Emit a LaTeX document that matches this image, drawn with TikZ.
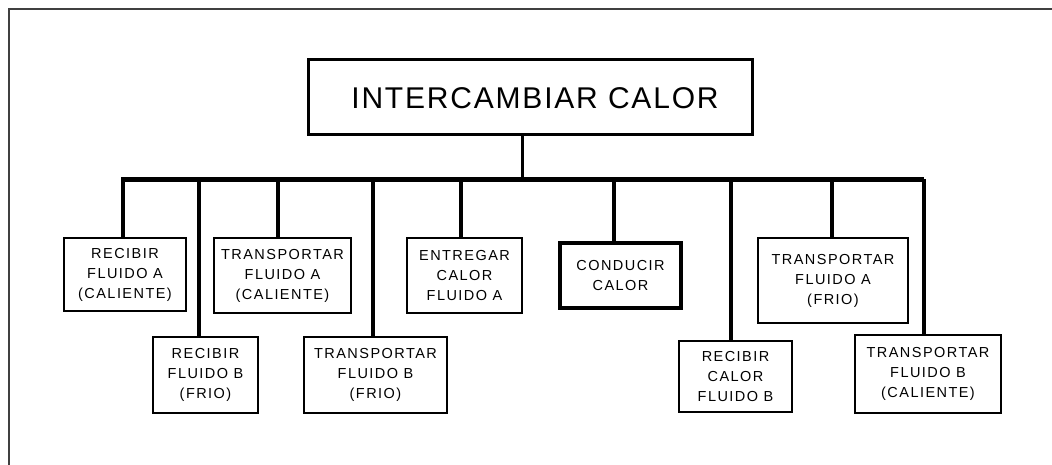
\documentclass[tikz,border=0pt]{standalone}
\usepackage{fontspec}
\setmainfont{Liberation Sans}
\newfontfamily\boxfont[LetterSpace=10]{Liberation Sans}
\newfontfamily\titlefont[LetterSpace=6]{Liberation Sans}
\tikzset{
  frameline/.style={draw=black!75, line width=2pt},
  mainbox/.style={draw=black, line width=3pt, inner sep=0pt, minimum width=444pt, minimum height=75pt},
  funcbox/.style={draw=black, line width=2pt, inner sep=0pt, align=center,
    font=\boxfont\fontsize{14.5}{20}\selectfont},
  thickbox/.style={funcbox, line width=3.5pt},
  stemline/.style={line width=3pt},
  busline/.style={line width=5pt},
  dropline/.style={line width=3.5pt},
}
\begin{document}
\begin{tikzpicture}[x=1pt, y=-1pt]
\useasboundingbox (0,0) rectangle (1052,465);
% outer frame (open)
\draw[frameline] (9,465) -- (9,9) -- (1052,9);
% top function
\node[mainbox] (top) at (530,97.5) {};
\node[font=\titlefont\fontsize{30}{36}\selectfont, inner sep=0pt] (title) at (535,98) {INTERCAMBIAR CALOR};
% bus
\coordinate (busL) at (121,179.5);
\coordinate (busR) at (924,179.5);
\coordinate (stemtop) at (522,135);
\draw[busline] (busL) -- (busR);
\draw[stemline] (stemtop) -- (stemtop |- busL);
% sub-functions
\node[funcbox, minimum width=122pt, minimum height=73pt] (b1) at (125,274.5) {RECIBIR\\FLUIDO A\\(CALIENTE)};
\node[funcbox, minimum width=105pt, minimum height=76pt] (b2) at (205.5,375) {RECIBIR\\FLUIDO B\\(FRIO)};
\node[funcbox, minimum width=137pt, minimum height=75pt] (b3) at (282.5,275.5) {TRANSPORTAR\\FLUIDO A\\(CALIENTE)};
\node[funcbox, minimum width=143pt, minimum height=76pt] (b4) at (375.5,375) {TRANSPORTAR\\FLUIDO B\\(FRIO)};
\node[funcbox, minimum width=115pt, minimum height=75pt] (b5) at (464.5,275.5) {ENTREGAR\\CALOR\\FLUIDO A};
\node[thickbox, minimum width=121pt, minimum height=65pt] (b6) at (620.5,275.5) {CONDUCIR\\CALOR};
\node[funcbox, minimum width=113pt, minimum height=71pt] (b7) at (735.5,376.5) {RECIBIR\\CALOR\\FLUIDO B};
\node[funcbox, minimum width=150pt, minimum height=85pt] (b8) at (833,280.5) {TRANSPORTAR\\FLUIDO A\\(FRIO)};
\node[funcbox, minimum width=146pt, minimum height=78pt] (b9) at (928,374) {TRANSPORTAR\\FLUIDO B\\(CALIENTE)};
% drops
\draw[dropline] ([xshift=-2pt]b1.north) -- ([xshift=-2pt]b1.north |- busL);
\draw[dropline] ([xshift=-6.5pt]b2.north) -- ([xshift=-6.5pt]b2.north |- busL);
\draw[dropline] ([xshift=-4.5pt]b3.north) -- ([xshift=-4.5pt]b3.north |- busL);
\draw[dropline] ([xshift=-2.5pt]b4.north) -- ([xshift=-2.5pt]b4.north |- busL);
\draw[dropline] ([xshift=-3.5pt]b5.north) -- ([xshift=-3.5pt]b5.north |- busL);
\draw[dropline] ([xshift=-6.5pt]b6.north) -- ([xshift=-6.5pt]b6.north |- busL);
\draw[dropline] ([xshift=-4.5pt]b7.north) -- ([xshift=-4.5pt]b7.north |- busL);
\draw[dropline] ([xshift=-1pt]b8.north) -- ([xshift=-1pt]b8.north |- busL);
\draw[dropline] ([xshift=-4pt]b9.north) -- ([xshift=-4pt]b9.north |- busL);
\end{tikzpicture}
\end{document}
